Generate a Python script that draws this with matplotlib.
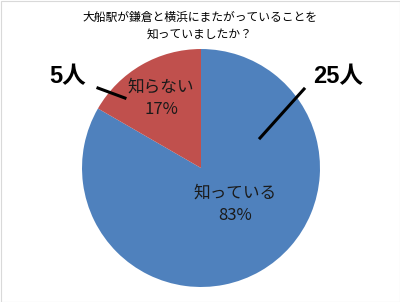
import matplotlib
matplotlib.use("Agg")
import matplotlib.pyplot as plt
from matplotlib.patches import Rectangle

plt.rcParams['font.family'] = ['Noto Sans CJK JP', 'DejaVu Sans']

title = "大船駅が鎌倉と横浜にまたがっていることを\n知っていましたか？"
categories = ["知っている", "知らない"]
counts = [25, 5]
percents = ["83%", "17%"]
count_labels = ["25人", "5人"]
colors = ["#4F81BD", "#C0504D"]

fig = plt.figure(figsize=(4.0, 3.02), dpi=100)
fig.patch.set_facecolor("white")
fig.patches.append(Rectangle((0.5 / 400, 0.5 / 302), 399 / 400, 301 / 302,
                             transform=fig.transFigure, fill=False,
                             edgecolor="#D9D9D9", linewidth=0.8))

ax = fig.add_axes([0.205, 0.0497, 0.595, 0.788])
ax.pie(counts, colors=colors, startangle=90, counterclock=False,
       wedgeprops=dict(linewidth=0))
ax.set_xlim(-1, 1)
ax.set_ylim(-1, 1)
ax.set_aspect("equal")
ax.axis("off")

# slice labels
ax.text(0.286, -0.303, categories[0] + "\n" + percents[0], ha="center", va="center",
        fontsize=12, color="#1a1a1a", linespacing=1.45)
ax.text(-0.336, 0.588, categories[1] + "\n" + percents[1], ha="center", va="center",
        fontsize=12, color="#1a1a1a", linespacing=1.45)

# count callouts
ax.plot([0.866, 0.496], [0.664, 0.252], color="black", lw=2.2, clip_on=False)
ax.plot([-0.866, -0.639], [0.672, 0.588], color="black", lw=2.2, clip_on=False)
cfam = ['Liberation Sans', 'Noto Sans CJK JP']
ax.text(1.151, 0.77, count_labels[0], ha="center", va="center", fontsize=17,
        fontweight="bold", color="black", clip_on=False, family=cfam)
ax.text(-1.118, 0.77, count_labels[1], ha="center", va="center", fontsize=17,
        fontweight="bold", color="black", clip_on=False, family=cfam)

fig.text(0.5, 0.914, title, ha="center", va="center", fontsize=8.5, color="black",
         linespacing=1.37)

fig.savefig("out.png", dpi=100)
